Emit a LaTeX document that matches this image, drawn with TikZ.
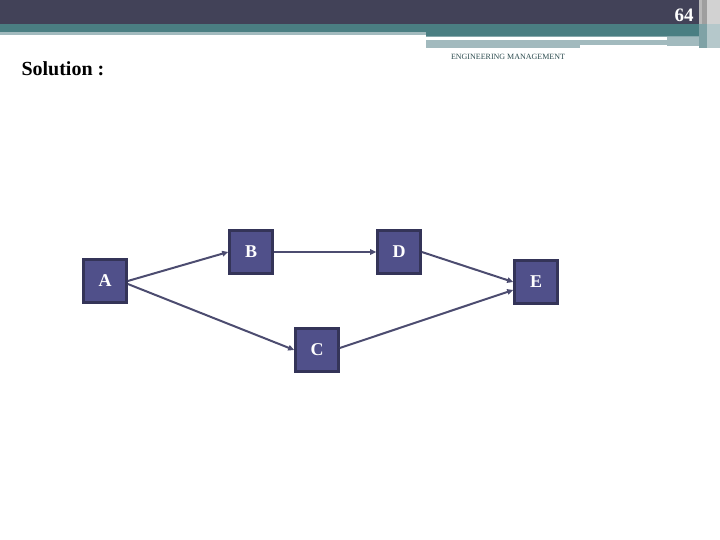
\documentclass[tikz,border=0pt]{standalone}
\usepackage{fontspec}
\setmainfont{Liberation Serif}
\usetikzlibrary{arrows.meta}

\definecolor{bandDark}{RGB}{66,66,88}
\definecolor{bandTeal}{RGB}{74,126,130}
\definecolor{bandPale}{RGB}{162,186,190}
\definecolor{boxFill}{RGB}{80,80,138}
\definecolor{boxLine}{RGB}{52,52,88}
\definecolor{edgeCol}{RGB}{76,76,112}

\begin{document}
\begin{tikzpicture}[x=1pt,y=1pt,
  act/.style={draw=boxLine, fill=boxFill, line width=2.6pt, minimum size=43pt,
    inner sep=0pt, text=white, font=\fontsize{18}{18}\selectfont\bfseries},
  link/.style={edgeCol, line width=2pt, -{Triangle[length=6pt,width=5.5pt]}}]
\useasboundingbox (0,0) rectangle (720,540);
% header bands
\fill[bandDark] (0,516) rectangle (720,540);
\fill[bandTeal] (0,508) rectangle (720,516);
\fill[bandPale] (0,505) rectangle (426,508);
\fill[bandTeal] (426,504) rectangle (720,508);
\fill[bandPale!70!bandTeal] (426,503) rectangle (720,504);
\fill[bandPale] (426,492) rectangle (580,500);
\fill[bandPale] (580,495) rectangle (720,500);
\fill[white] (426,500) rectangle (667,503);
\fill[bandPale] (667,494) rectangle (720,503);
\fill[gray!55] (699,516) rectangle (702,540);
\fill[gray!75] (702,516) rectangle (707,540);
\fill[gray!35] (707,516) rectangle (720,540);
\fill[bandPale!80!white] (707,492) rectangle (720,516);
\fill[bandPale!60!bandTeal] (699,492) rectangle (707,516);
\node[text=white, font=\fontsize{19}{19}\selectfont\bfseries] (page) at (684,525) {64};
\node[text=bandTeal!60!black, font=\fontsize{8}{8}\selectfont] (course) at (508,483) {ENGINEERING MANAGEMENT};
\node[anchor=west, font=\fontsize{20}{20}\selectfont\bfseries] (title) at (18,471) {Solution :};
% activity network
\node[act] (A) at (105,259) {A};
\node[act] (B) at (251,288) {B};
\node[act] (D) at (399,288) {D};
\node[act] (E) at (536,258) {E};
\node[act] (C) at (317,190) {C};
\draw[link] (A.east) -- (B.west);
\draw[link] ([yshift=-3pt]A.east) -- (C.west);
\draw[link] (B.east) -- (D.west);
\draw[link] (D.east) -- (E.west);
\draw[link] ([yshift=2pt]C.east) -- ([yshift=-8pt]E.west);
\end{tikzpicture}
\end{document}
